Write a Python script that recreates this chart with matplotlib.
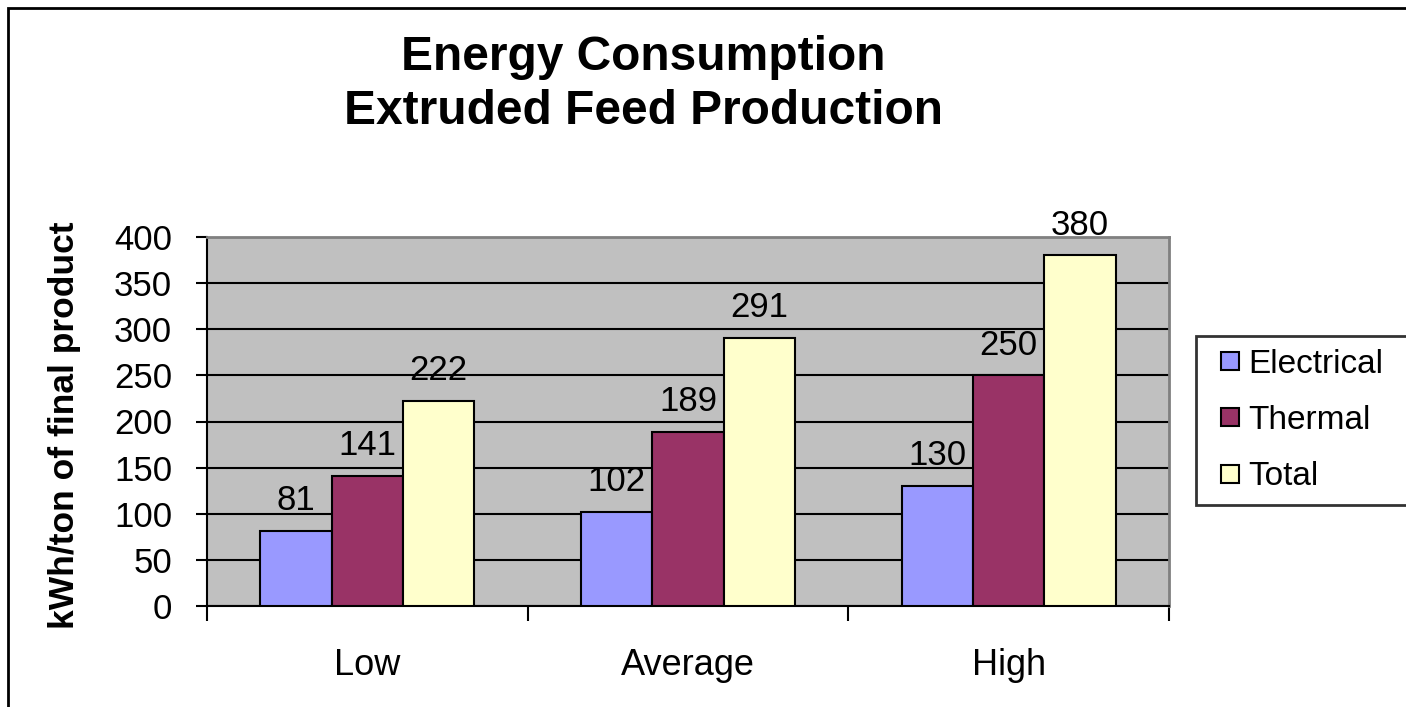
import matplotlib
matplotlib.use("Agg")
import matplotlib.pyplot as plt
from matplotlib.patches import Rectangle
from matplotlib.container import BarContainer
from matplotlib.legend_handler import HandlerPatch, update_from_first_child
import numpy as np

plt.rcParams['font.family'] = ['Liberation Sans', 'DejaVu Sans']

categories = ["Low", "Average", "High"]
series_names = ["Electrical", "Thermal", "Total"]
electrical = [81, 102, 130]
thermal = [141, 189, 250]
total = [222, 291, 380]
colors = ["#9999FF", "#993366", "#FFFFCC"]
yticks = [0, 50, 100, 150, 200, 250, 300, 350, 400]

W, H = 1406, 707
fig = plt.figure(figsize=(W / 100, H / 100), dpi=100)
fig.patch.set_facecolor("white")
fig.patches.append(Rectangle((8 / W, -0.05), 1.1, 1 - 8 / H + 0.05,
                             transform=fig.transFigure, fill=False, edgecolor="black",
                             linewidth=2, zorder=0))

left, right, top, bottom = 207, 1169, 237, 606
ax = fig.add_axes([left / W, 1 - bottom / H, (right - left) / W, (bottom - top) / H])
ax.set_facecolor("#C0C0C0")

n = len(categories)
bw = 1 / 4.5
x = np.arange(n)
data = [electrical, thermal, total]
for i, (vals, c, name) in enumerate(zip(data, colors, series_names)):
    pos = x + (i - 1) * bw
    ax.bar(pos, vals, width=bw, color=c, edgecolor="black", linewidth=1.5,
           label=name, zorder=3)
    for p, v in zip(pos, vals):
        ax.annotate(f"{v}", (p, v), xytext=(0, 15), textcoords="offset points",
                    ha="center", va="baseline", fontsize=25, zorder=4)

ax.set_xlim(-0.5, n - 0.5)
ax.set_ylim(0, 400)
ax.set_yticks(yticks)
ax.set_yticklabels([str(t) for t in yticks], fontsize=25)
ax.yaxis.grid(True, color="black", linewidth=1.5, zorder=1)
ax.set_axisbelow(True)
ax.tick_params(axis="y", direction="out", length=8, width=1.5, pad=17)
ax.set_xticks(np.arange(-0.5, n, 1.0))
ax.set_xticklabels([])
ax.tick_params(axis="x", direction="out", length=11, width=1.5)
ax.set_xticks(x, minor=True)
ax.set_xticklabels(categories, minor=True, fontsize=26)
ax.tick_params(axis="x", which="minor", length=0, pad=30.5)

for s in ["top", "right"]:
    ax.spines[s].set_color("#808080")
    ax.spines[s].set_linewidth(2)
for s in ["left", "bottom"]:
    ax.spines[s].set_color("black")
    ax.spines[s].set_linewidth(1.5)

fig.text(65 / W, 1 - 425 / H, "kWh/ton of final product", rotation=90,
         ha="center", va="center", fontsize=25.5, fontweight="bold")

fig.text(643 / W, 1 - 57 / H, "Energy Consumption", ha="center", va="center",
         fontsize=34.5, fontweight="bold")
fig.text(643 / W, 1 - 112 / H, "Extruded Feed Production", ha="center", va="center",
         fontsize=34.5, fontweight="bold")


def small_square(legend, orig_handle, xdescent, ydescent, width, height, fontsize):
    s = 13
    return Rectangle((width - s - xdescent, height / 2 - s / 2 - ydescent), s, s)


leg = fig.legend(loc="upper left", bbox_to_anchor=(1196 / W, 0, 300 / W, 1 - 336 / H),
                 mode="expand", fontsize=24, frameon=True, fancybox=False,
                 edgecolor="black", handlelength=0.9, handleheight=0.7,
                 handletextpad=0.3, borderpad=0.38, labelspacing=0.76,
                 borderaxespad=0,
                 handler_map={BarContainer: HandlerPatch(patch_func=small_square,
                                                         update_func=update_from_first_child)})
leg.get_frame().set_linewidth(2)
for h in leg.legend_handles:
    h.set_linewidth(1.5)
    h.set_edgecolor("black")

fig.savefig("out.png", dpi=100)
